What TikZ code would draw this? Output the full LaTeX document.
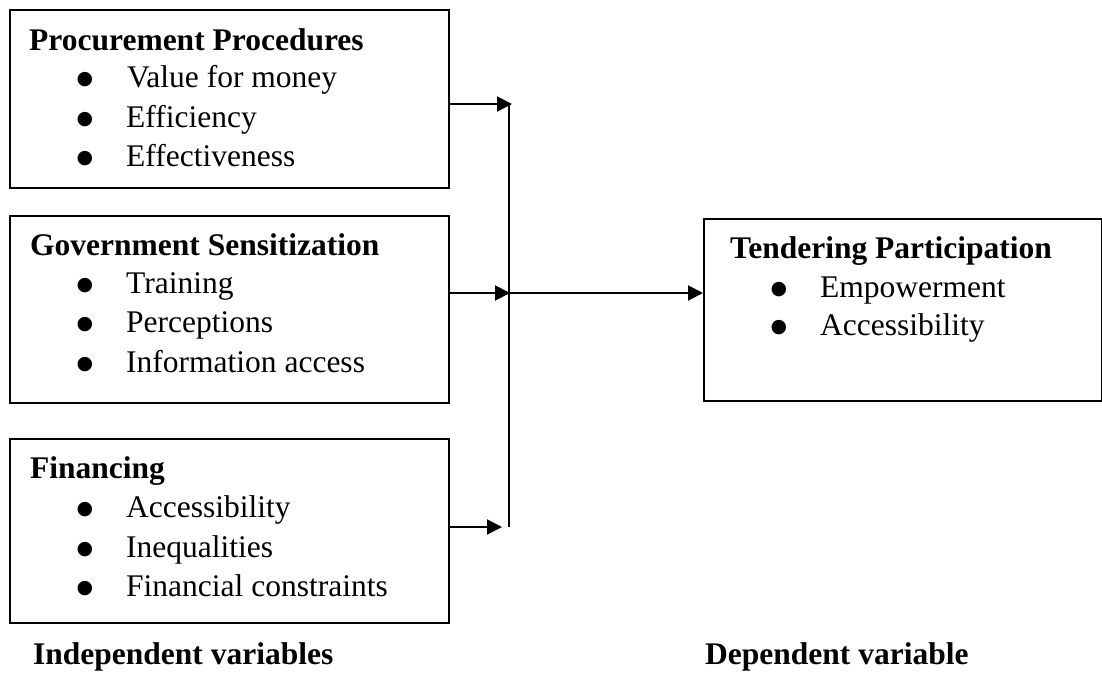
\documentclass[tikz,border=0pt]{standalone}
\usepackage{fontspec}
\setmainfont{Liberation Serif}
\newfontfamily\symfont{DejaVu Sans}
\usetikzlibrary{arrows.meta}
\begin{document}
\begin{tikzpicture}[x=1pt,y=1pt,
  box/.style={draw, line width=2pt, minimum width=#1, anchor=north west, inner sep=0pt},
  head/.style={font=\fontsize{31.5}{38}\selectfont\bfseries, anchor=base west, inner sep=0pt},
  item/.style={font=\fontsize{31.5}{38}\selectfont, anchor=base west, inner sep=0pt},
  bul/.style={font=\symfont\fontsize{19}{19}\selectfont, anchor=base, inner sep=0pt, yshift=3pt},
  arr/.style={line width=2pt, -{Triangle[length=15pt,width=15pt]}},
  conn/.style={line width=2pt}]
\useasboundingbox (0,0) rectangle (1102,-673);
% boxes
\node[box=439pt, minimum height=178pt] (p1) at (9,-9) {};
\node[box=439pt, minimum height=187pt] (p2) at (9,-215) {};
\node[box=439pt, minimum height=184pt] (p3) at (9,-438) {};
\node[box=398pt, minimum height=182pt] (dv) at (703,-218) {};
% box 1 text
\node[head] (h1) at (29,-50) {Procurement Procedures};
\node[bul] (b11) at (85,-87) {●};  \node[item] (t11) at (127,-87) {Value for money};
\node[bul] (b12) at (85,-127) {●}; \node[item] (t12) at (126,-127) {Efficiency};
\node[bul] (b13) at (85,-166) {●}; \node[item] (t13) at (126,-166) {Effectiveness};
% box 2 text
\node[head] (h2) at (30,-255) {Government Sensitization};
\node[bul] (b21) at (85,-293) {●}; \node[item] (t21) at (126,-293) {Training};
\node[bul] (b22) at (85,-332) {●}; \node[item] (t22) at (126,-332) {Perceptions};
\node[bul] (b23) at (85,-372) {●}; \node[item] (t23) at (126,-372) {Information access};
% box 3 text
\node[head] (h3) at (30,-478) {Financing};
\node[bul] (b31) at (85,-517) {●}; \node[item] (t31) at (126,-517) {Accessibility};
\node[bul] (b32) at (85,-557) {●}; \node[item] (t32) at (126,-557) {Inequalities};
\node[bul] (b33) at (85,-596) {●}; \node[item] (t33) at (126,-596) {Financial constraints};
% box 4 text
\node[head] (h4) at (730,-258) {Tendering Participation};
\node[bul] (b41) at (779,-297) {●}; \node[item] (t41) at (820,-297) {Empowerment};
\node[bul] (b42) at (779,-335) {●}; \node[item] (t42) at (820,-335) {Accessibility};
% labels
\node[head] (lind) at (33,-664) {Independent variables};
\node[head] (ldep) at (705,-664) {Dependent variable};
% connectors
\coordinate (vt) at (509,-104);
\coordinate (vm) at (509,-293);
\coordinate (vb) at (509,-527);
\draw[conn] (vt) -- (vb);
\draw[arr] (p1.east |- vt) -- ([xshift=3pt]vt);
\draw[arr] (p2.east |- vm) -- ([xshift=1pt]vm);
\draw[arr] (p3.east |- vb) -- ([xshift=-7pt]vb);
\draw[arr] (vm) -- (dv.west |- vm);
\end{tikzpicture}
\end{document}
